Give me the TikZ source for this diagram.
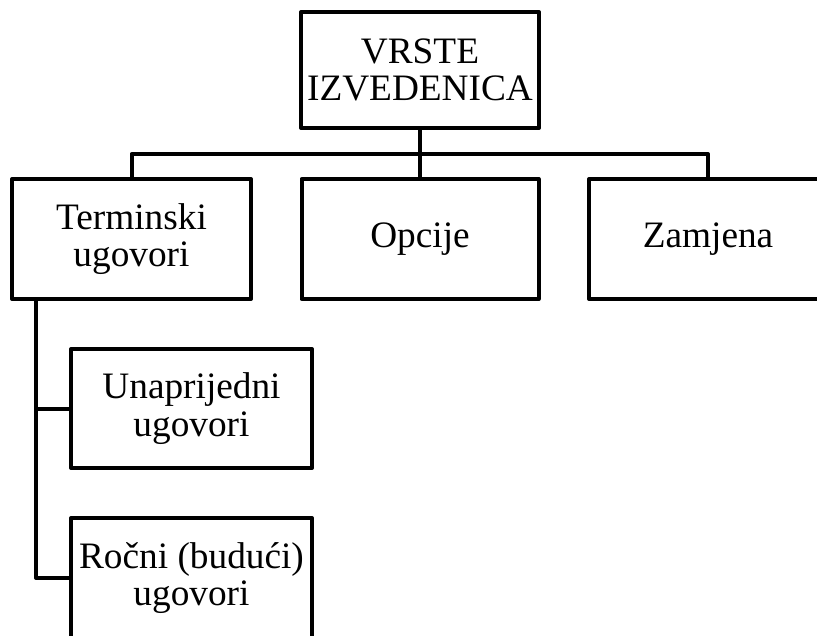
\documentclass[tikz,border=0pt]{standalone}
\usepackage{fontspec}
\setmainfont{Liberation Serif}
\usepackage{tikz}
\usetikzlibrary{positioning}

\begin{document}
\begin{tikzpicture}[x=1pt, y=-1pt, line width=4pt, line join=round,
    box/.style={draw, line width=4pt, minimum width=238pt, minimum height=120pt, align=center, inner sep=0pt,
        font=\fontsize{37.3}{37.3}\selectfont}]
    \useasboundingbox (0,0) rectangle (817,636);

    % Root
    \node[box, minimum height=116pt] (vrste) at (420, 70) {VRSTE\\IZVEDENICA};

    % First level
    \node[box, minimum width=239pt] (term) at (131.5, 239) {Terminski\\ugovori};
    \node[box, minimum width=237pt] (opc) at (420, 239) {Opcije};
    \node[box] (zam) at (708, 239) {Zamjena};

    % Second level
    \node[box, minimum width=241pt, minimum height=119pt] (unap) at (191.5, 408.5) {Unaprijedni\\ugovori};
    \node[box, minimum width=241pt] (rocni) at (191.5, 578) {Ročni (budući)\\ugovori};

    % Connectors
    \coordinate (bus) at (420, 154);
    \coordinate (spine) at (36, 0);
    \draw (vrste.south) -- (opc.north);
    \draw (term.north) -- (term.north |- bus) -- (zam.north |- bus) -- (zam.north);
    \draw (spine |- term.south) |- (rocni.west);
    \draw (spine |- unap.west) -- (unap.west);
\end{tikzpicture}
\end{document}
